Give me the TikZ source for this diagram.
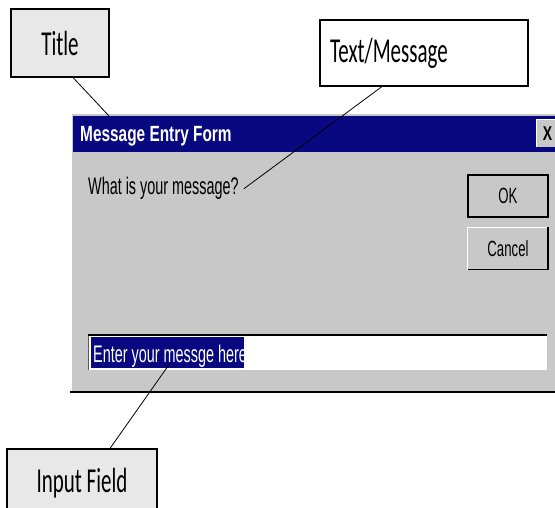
\documentclass[tikz,border=0pt]{standalone}
\usepackage{fontspec}
\usepackage{tikz}
\usetikzlibrary{positioning}

\newfontfamily\lblfont[FakeStretch=0.6]{Carlito}
\newfontfamily\dlgfont[FakeStretch=0.6]{Liberation Sans}
\newfontfamily\barfont[FakeStretch=0.7]{Liberation Sans}

\definecolor{barblue}{RGB}{8,8,128}
\definecolor{dlggray}{RGB}{200,200,200}
\definecolor{lblgray}{RGB}{232,232,232}
\definecolor{edgedark}{RGB}{90,90,90}

\tikzset{
    lblbox/.style={draw=black, line width=1.1pt, inner sep=0pt,
        font=\lblfont\fontsize{35}{40}\selectfont},
    dlgtext/.style={inner sep=0pt, anchor=base west,
        font=\dlgfont\fontsize{24}{28}\selectfont},
    dlgbtn/.style={fill=dlggray, inner sep=0pt, minimum width=80pt, minimum height=42pt,
        font=\dlgfont\fontsize{22}{26}\selectfont},
    pointer/.style={draw=black, line width=0.8pt}
}

\begin{document}
\begin{tikzpicture}[x=1pt, y=-1pt]
    \useasboundingbox (0, 0) rectangle (555, 508);
    \clip (0, 0) rectangle (555, 508);

    % dialog window
    \fill[dlggray] (70, 112) rectangle (560, 393);
    \draw[white, line width=1.5pt] (71, 392) -- (71, 113) -- (560, 113);
    \draw[black, line width=1.8pt] (70, 392) -- (560, 392);
    \fill[barblue] (73, 116) rectangle (560, 152);
    \node[font=\barfont\bfseries\fontsize{22}{26}\selectfont, text=white,
        inner sep=0pt, anchor=base west] (bartitle) at (80, 142) {Message Entry Form};
    \node[dlgbtn, minimum width=21pt, minimum height=27pt,
        font=\barfont\bfseries\fontsize{20}{24}\selectfont] (close) at (547.5, 133.5) {X};
    \draw[white, line width=1pt] (close.south west) |- (close.north east);

    \node[dlgtext] (msg) at (88, 195) {What is your message?};

    \node[dlgbtn, draw=black, line width=1.5pt] (ok) at (508, 196) {OK};
    \node[dlgbtn] (cancel) at (508, 248.5) {Cancel};
    \draw[white, line width=1.2pt] (cancel.south west) |- (cancel.north east);
    \draw[black, line width=1.5pt] (cancel.south west) -| (cancel.north east);

    % input field
    \fill[white] (88, 334) rectangle (547, 370);
    \draw[edgedark, line width=1.2pt] (88.5, 370) -- (88.5, 334);
    \draw[black, line width=2pt] (88, 335) -- (547, 335);
    \fill[barblue] (91, 337) rectangle (244, 368);
    \node[dlgtext, text=white] (entry) at (93, 362) {Enter your messge here};

    % labels
    \node[lblbox, fill=lblgray, minimum width=98pt, minimum height=68pt] (title) at (60, 43) {Title};
    \node[lblbox, fill=white, minimum height=66pt, text width=188pt, inner xsep=10pt,
        align=left] (textmsg) at (424, 53) {Text/Message};
    \node[lblbox, fill=lblgray, minimum width=150pt, minimum height=68pt] (input) at (82, 483) {Input Field};

    \coordinate (titletip) at (110, 117);

    \draw[pointer] ([xshift=13pt]title.south) -- (titletip);
    \draw[pointer] ([xshift=-42pt]textmsg.south) -- ([xshift=5pt]msg.east);
    \draw[pointer] ([yshift=4pt]entry.south) -- ([xshift=28pt]input.north);
\end{tikzpicture}
\end{document}
